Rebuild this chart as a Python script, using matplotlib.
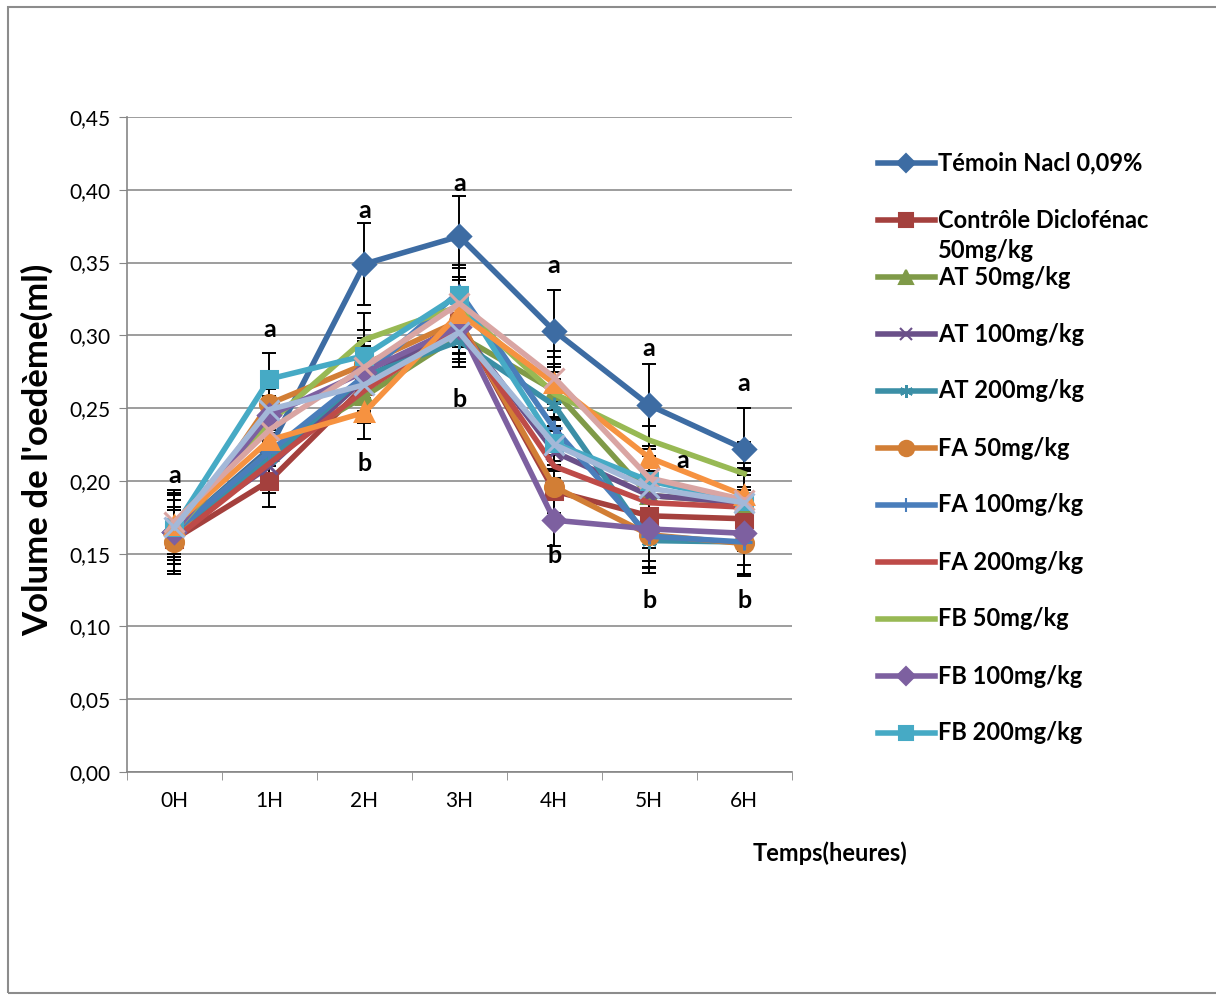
import matplotlib.pyplot as plt
from matplotlib.lines import Line2D
from matplotlib.patches import Rectangle
from matplotlib.ticker import FuncFormatter, MultipleLocator

plt.rcParams['font.family'] = ['Lato', 'DejaVu Sans']

times = ['0H', '1H', '2H', '3H', '4H', '5H', '6H']

temoin = [0.165, 0.222, 0.349, 0.368, 0.303, 0.252, 0.222]
controle = [0.160, 0.200, 0.265, 0.310, 0.193, 0.176, 0.174]
at50 = [0.165, 0.220, 0.258, 0.300, 0.262, 0.190, 0.185]
at100 = [0.165, 0.210, 0.270, 0.306, 0.220, 0.190, 0.185]
at200 = [0.165, 0.215, 0.272, 0.296, 0.252, 0.159, 0.158]
fa50 = [0.158, 0.253, 0.280, 0.310, 0.196, 0.163, 0.157]
fa100 = [0.165, 0.220, 0.272, 0.330, 0.236, 0.162, 0.158]
fa200 = [0.160, 0.212, 0.262, 0.305, 0.210, 0.185, 0.182]
fb50 = [0.165, 0.240, 0.297, 0.320, 0.260, 0.228, 0.205]
fb100 = [0.165, 0.245, 0.275, 0.306, 0.173, 0.167, 0.164]
fb200 = [0.168, 0.270, 0.286, 0.328, 0.226, 0.200, 0.186]
extra_orange = [0.170, 0.228, 0.247, 0.315, 0.267, 0.216, 0.190]
extra_pink = [0.172, 0.235, 0.278, 0.322, 0.271, 0.202, 0.187]
extra_grey = [0.168, 0.249, 0.266, 0.302, 0.225, 0.195, 0.185]

err_temoin = [0.022, 0.020, 0.028, 0.028, 0.028, 0.028, 0.028]
err_other = [0.022, 0.018, 0.018, 0.018, 0.018, 0.022, 0.022]

labels = ['Témoin Nacl 0,09%', 'Contrôle Diclofénac\n50mg/kg', 'AT 50mg/kg',
          'AT 100mg/kg', 'AT 200mg/kg', 'FA 50mg/kg', 'FA 100mg/kg',
          'FA 200mg/kg', 'FB 50mg/kg', 'FB 100mg/kg', 'FB 200mg/kg']

# letter annotations: (x index, y, letter)
letters_x = [0, 1, 2, 2, 3, 3, 4, 4, 5, 5, 5.35, 6, 6]
letters_y = [0.204, 0.304, 0.386, 0.212, 0.404, 0.256, 0.348, 0.149, 0.291, 0.118, 0.214, 0.267, 0.118]
letters_t = ['a', 'a', 'a', 'b', 'a', 'b', 'a', 'b', 'a', 'b', 'a', 'a', 'b']

series = [temoin, controle, at50, at100, at200, fa50, fa100, fa200, fb50, fb100, fb200,
          extra_orange, extra_pink, extra_grey]
errors = [err_temoin] + [err_other] * 13
colors = ['#3D6CA3', '#A4403D', '#7F9A48', '#6A5089', '#3B8FA6', '#D27E35', '#4A7EBB',
          '#BE4B48', '#98B954', '#7D60A0', '#46AAC5', '#F69240', '#D9A5A3', '#A3B8D8']
markers = ['D', 's', '^', 'x', (6, 2, 0), 'o', '+', None, None, 'D', 's', '^', 'x', 'x']
msizes = [11, 12, 12, 11, 11, 13, 12, 0, 0, 11, 12, 13, 14, 14]

fig = plt.figure(figsize=(12.16, 9.99), dpi=100)
ax = fig.add_axes([0.1044, 0.2272, 0.5466, 0.6557])

x = list(range(len(times)))
for i, ys in enumerate(series):
    ax.errorbar(x, ys, yerr=errors[i], fmt='none', ecolor='black', elinewidth=1.4,
                capsize=5, capthick=1.4, zorder=2 + i * 0.01)
for i, ys in enumerate(series):
    ax.plot(x, ys, color=colors[i], lw=4, marker=markers[i], ms=msizes[i],
            mec=colors[i], mfc=colors[i], mew=2.2, zorder=3 + i * 0.01)

for lx, ly, lt in zip(letters_x, letters_y, letters_t):
    ax.text(lx, ly, lt, ha='center', va='center', fontsize=18, fontweight='bold', zorder=10)

ax.set_xlim(-0.5, 6.5)
ax.set_ylim(0, 0.45)
ax.yaxis.set_major_locator(MultipleLocator(0.05))
ax.yaxis.set_major_formatter(FuncFormatter(lambda v, p: f'{v:.2f}'.replace('.', ',')))
ax.set_xticks(x)
ax.set_xticklabels(times)
ax.set_xticks([i - 0.5 for i in range(8)], minor=True)
ax.tick_params(axis='x', which='major', length=0, pad=14, labelsize=15)
ax.tick_params(axis='x', which='minor', length=6, color='#868686')
ax.tick_params(axis='y', length=6, color='#868686', labelsize=15, pad=6)
ax.grid(axis='y', color='#8c8c8c', lw=1.2)
ax.set_axisbelow(True)
for s in ['top', 'right']:
    ax.spines[s].set_visible(False)
for s in ['left', 'bottom']:
    ax.spines[s].set_color('#868686')
    ax.spines[s].set_linewidth(1.2)

fig.text(37 / 1216, 1 - 450 / 999, "Volume de l'oedème(ml)", rotation=90, ha='center',
         va='center', fontsize=25, fontweight='bold')
fig.text(830 / 1216, 1 - 853 / 999, 'Temps(heures)', ha='center', va='center',
         fontsize=17, fontweight='bold')

# legend drawn by hand to match the fixed spacing of the original
for i, lab in enumerate(labels):
    yc = 1 - (163 + 57 * i) / 999
    fig.add_artist(Line2D([878 / 1216, 935 / 1216], [yc, yc], transform=fig.transFigure,
                          color=colors[i], lw=4))
    if markers[i] is not None:
        fig.add_artist(Line2D([906 / 1216], [yc], transform=fig.transFigure, color=colors[i],
                              marker=markers[i], ms=msizes[i] * 0.85, mec=colors[i],
                              mfc=colors[i], mew=1.5))
    lines = lab.split('\n')
    for j, part in enumerate(lines):
        fig.text(938 / 1216, yc - j * 30 / 999, part, ha='left', va='center',
                 fontsize=17, fontweight='bold')

fig.add_artist(Rectangle((8 / 1216, 1 - 993 / 999), 1.2, (993 - 7) / 999, transform=fig.transFigure,
                         fill=False, ec='#8c8c8c', lw=1.5))

fig.savefig('out.png', dpi=100)
